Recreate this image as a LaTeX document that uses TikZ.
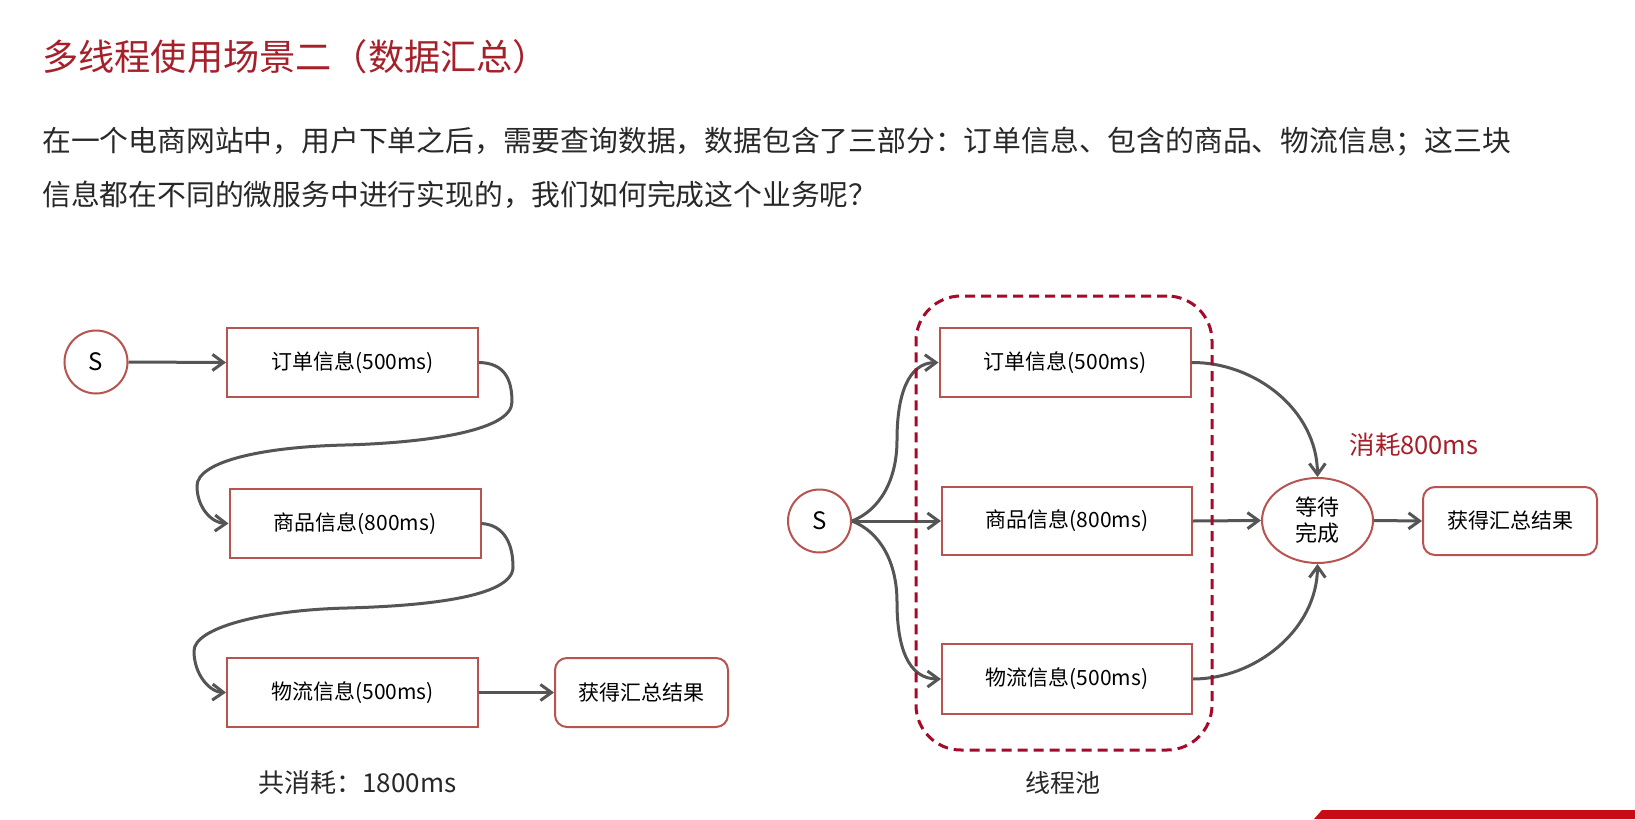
\documentclass[tikz,border=0pt]{standalone}
\usepackage{fontspec}
\setmainfont{Noto Sans CJK SC}
\usetikzlibrary{arrows.meta,shapes.geometric}
\definecolor{boxred}{RGB}{184,84,80}
\definecolor{pooldark}{RGB}{165,10,40}
\definecolor{arrowgray}{RGB}{85,85,85}
\definecolor{titlered}{RGB}{166,32,42}
\definecolor{bodytext}{RGB}{40,40,40}
\definecolor{bannerred}{RGB}{200,12,22}
\begin{document}
\begin{tikzpicture}[x=1pt,y=-1pt,
  conn/.style={draw=arrowgray, line width=3pt, -{Straight Barb[length=11pt,width=16pt]}},
  infobox/.style={draw=boxred, line width=2pt, rectangle, minimum width=251pt, minimum height=69pt, inner sep=0pt, font=\fontsize{21}{25}\selectfont, text=black},
  resbox/.style={infobox, rounded corners=12pt, minimum width=174pt},
  startnode/.style={circle, draw=boxred, line width=2pt, minimum size=63pt, inner sep=0pt, font=\fontsize{24}{28}\selectfont, text=black},
  waitnode/.style={ellipse, draw=boxred, line width=2pt, minimum width=111pt, minimum height=85pt, inner sep=0pt, align=center, font=\fontsize{22}{26}\selectfont, text=black},
  pool/.style={draw=pooldark, line width=3pt, dash pattern=on 10pt off 6pt, rounded corners=45pt, minimum width=296pt, minimum height=454pt, inner sep=0pt},
  plain/.style={inner sep=0pt, text=bodytext},
]
\useasboundingbox (0,0) rectangle (1635,819);
\fill[white] (0,0) rectangle (1635,819);

% title and description
\node[plain, anchor=west, text=titlered, font=\fontsize{36.2}{40}\selectfont] (title) at (42,57) {多线程使用场景二（数据汇总）};
\node[plain, anchor=west, font=\fontsize{28.8}{32}\selectfont] (line1) at (42,142) {在一个电商网站中，用户下单之后，需要查询数据，数据包含了三部分：订单信息、包含的商品、物流信息；这三块};
\node[plain, anchor=west, font=\fontsize{28.8}{32}\selectfont] (line2) at (42,195) {信息都在不同的微服务中进行实现的，我们如何完成这个业务呢？};

% left: serial
\node[startnode] (s1) at (96,362) {S};
\node[infobox] (a1) at (352.5,362.5) {订单信息(500ms)};
\node[infobox] (a2) at (355,523.5) {商品信息(800ms)};
\node[infobox] (a3) at (352.5,692.5) {物流信息(500ms)};
\node[resbox, minimum width=173pt] (ar) at (641.5,692.5) {获得汇总结果};
\node[plain, font=\fontsize{26}{30}\selectfont] (total) at (357.5,783) {共消耗：1800ms};

\draw[conn] (s1.east) -- (a1.west);
\draw[conn] (a1.east) .. controls (505,363) and (512,380) .. (512,402)
  .. controls (512,432) and (420,443) .. (345,445)
  .. controls (260,447) and (197,462) .. (197,486)
  .. controls (197,508) and (212,523) .. (a2.west);
\draw[conn] (a2.east) .. controls (505,525) and (513,545) .. (513,567)
  .. controls (513,598) and (420,606) .. (347,608)
  .. controls (262,610) and (194,628) .. (194,651)
  .. controls (194,675) and (210,692) .. (a3.west);
\draw[conn] (a3.east) -- (ar.west);

% right: parallel
\node[startnode] (s2) at (819.5,521) {S};
\node[infobox] (b1) at (1065,362.5) {订单信息(500ms)};
\node[infobox, minimum width=250pt, minimum height=68pt] (b2) at (1067,521) {商品信息(800ms)};
\node[infobox, minimum width=250pt, minimum height=70pt] (b3) at (1067,679) {物流信息(500ms)};
\node[waitnode] (wait) at (1317.5,520.5) {等待\\完成};
\node[resbox, minimum height=68pt] (br) at (1510,521) {获得汇总结果};
\node[plain, text=titlered, font=\fontsize{25.5}{30}\selectfont] (cost) at (1414,445) {消耗800ms};
\node[plain, font=\fontsize{25}{30}\selectfont] (poollabel) at (1063,783) {线程池};

\draw[conn] (s2.east) -- (b2.west);
\draw[conn] (s2.east) .. controls (880,510) and (897,480) .. (897,440)
  .. controls (897,395) and (908,363) .. (b1.west);
\draw[conn] (s2.east) .. controls (880,532) and (897,562) .. (897,602)
  .. controls (897,647) and (908,679) .. (b3.west);
\draw[conn] (b1.east) .. controls (1255,362) and (1317,410) .. (wait.north);
\draw[conn] (b2.east) -- (wait.west);
\draw[conn] (b3.east) .. controls (1255,679) and (1317,630) .. (wait.south);
\draw[conn] (wait.east) -- (br.west);

\node[pool] (poolbox) at (1064,523) {};

% partial banner at the bottom edge
\fill[bannerred] (1314,819) -- (1322,810) -- (1635,810) -- (1635,819) -- cycle;
\end{tikzpicture}
\end{document}
